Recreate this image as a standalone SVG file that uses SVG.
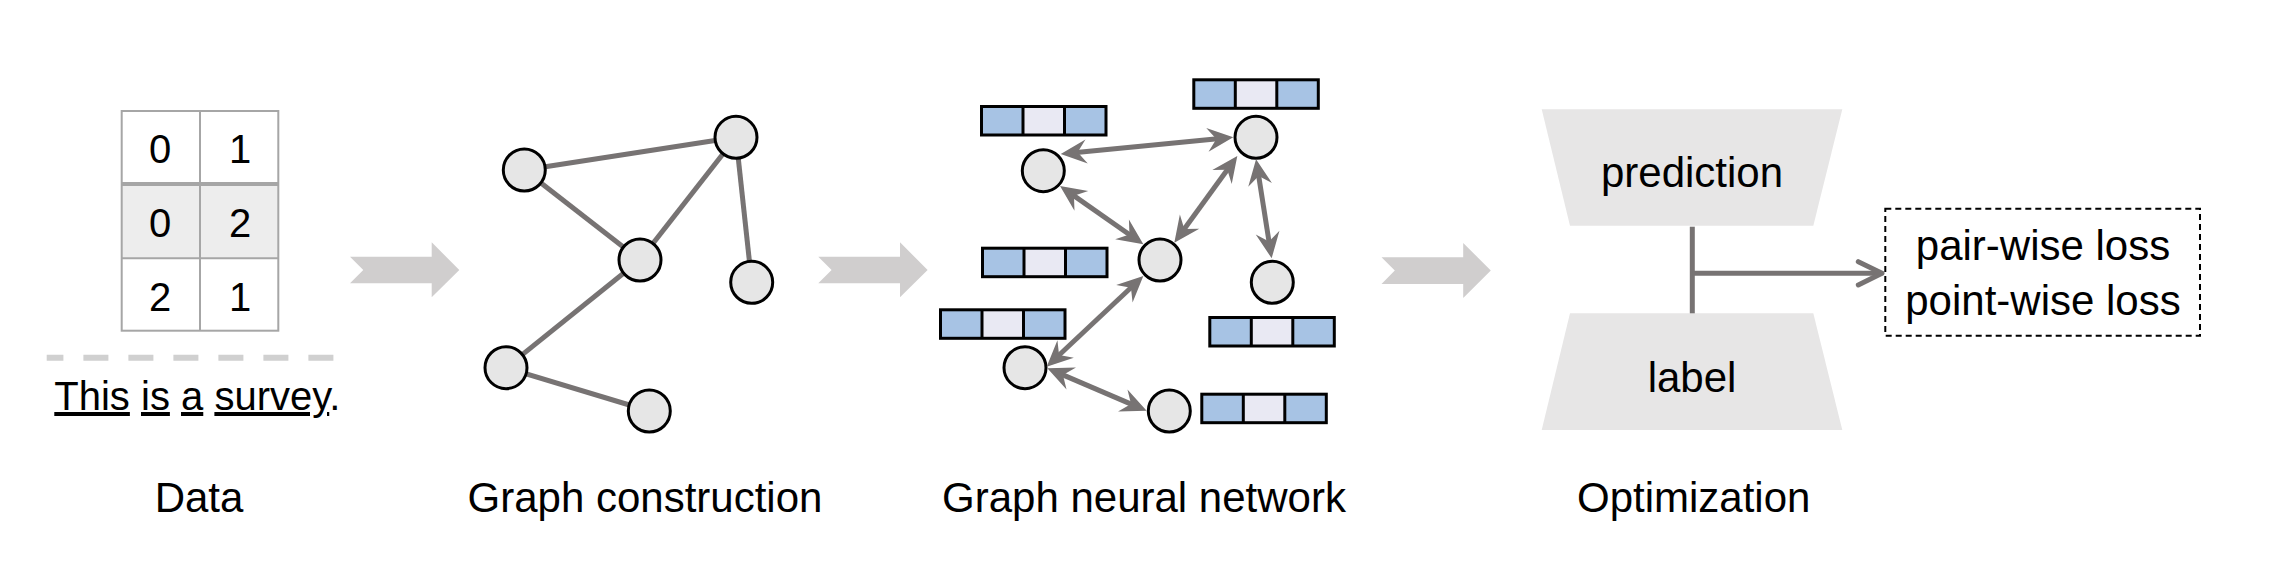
<svg xmlns="http://www.w3.org/2000/svg" xmlns:xlink="http://www.w3.org/1999/xlink" width="2272" height="574" viewBox="0 0 2272 574">
  <style>
    text { font-family: "Liberation Sans", Arial, sans-serif; fill: #000; }
    .lbl { font-size: 42px; text-anchor: middle; }
    .num { font-size: 40px; text-anchor: middle; }
    .cell { stroke: #a6a6a6; stroke-width: 2; fill: none; }
    .big { fill: #d0cece; }
    .node { fill: #e6e6e6; stroke: #000; stroke-width: 3; }
    .edge { stroke: #777373; stroke-width: 5; fill: none; }
    .dbl { stroke: #777373; stroke-width: 5; fill: none; marker-start: url(#head); marker-end: url(#head); }
    .trap { fill: #e7e6e6; }
    .blue { fill: #a7c3e4; }
    .pale { fill: #e9e9f3; }
    .vbord { fill: none; stroke: #000; stroke-width: 3; }
  </style>
  <defs>
    <marker id="head" markerUnits="userSpaceOnUse" orient="auto-start-reverse" markerWidth="40" markerHeight="28" refX="26" refY="14" overflow="visible">
      <path d="M34,14 L8,2 L17,14 L8,26 Z" fill="#777373"/>
    </marker>
    <g id="vec">
      <rect x="0" y="0" width="41.5" height="28.5" class="blue"/>
      <rect x="41.5" y="0" width="41.5" height="28.5" class="pale"/>
      <rect x="83" y="0" width="41.5" height="28.5" class="blue"/>
      <rect x="0" y="0" width="124.5" height="28.5" class="vbord"/>
      <line x1="41.5" y1="0" x2="41.5" y2="28.5" class="vbord"/>
      <line x1="83" y1="0" x2="83" y2="28.5" class="vbord"/>
    </g>
    <path id="bigarrow" d="M0,0 L81.7,0 L81.7,-14.4 L109.3,13.3 L81.7,40.6 L81.7,26.6 L0,26.6 L13.3,13.3 Z"/>
  </defs>

  <!-- Data -->
  <g id="data">
    <rect x="121.7" y="184" width="156.6" height="74.3" fill="#ededed"/>
    <rect x="121.7" y="111" width="156.6" height="219.7" class="cell"/>
    <line x1="200" y1="111" x2="200" y2="330.7" class="cell"/>
    <line x1="121.7" y1="184" x2="278.3" y2="184" stroke="#a6a6a6" stroke-width="4"/>
    <line x1="121.7" y1="258.3" x2="278.3" y2="258.3" class="cell"/>
    <text class="num" x="160" y="162.7">0</text>
    <text class="num" x="240" y="162.7">1</text>
    <text class="num" x="160" y="236.7">0</text>
    <text class="num" x="240" y="236.7">2</text>
    <text class="num" x="160" y="310.7">2</text>
    <text class="num" x="240" y="310.7">1</text>
    <line x1="46.7" y1="357.7" x2="334.3" y2="357.7" stroke="#d0d0d0" stroke-width="6" stroke-dasharray="25 20" stroke-dashoffset="8.3"/>
    <text x="54.3" y="410" font-size="40"><tspan text-decoration="underline">This</tspan> <tspan text-decoration="underline">is</tspan> <tspan text-decoration="underline">a</tspan> <tspan text-decoration="underline">survey</tspan>.</text>
  </g>

  <!-- Big stage arrows -->
  <g id="stage-arrows">
    <use xlink:href="#bigarrow" href="#bigarrow" x="350" y="256.7" class="big"/>
    <use xlink:href="#bigarrow" href="#bigarrow" x="818.3" y="256.7" class="big"/>
    <use xlink:href="#bigarrow" href="#bigarrow" x="1381.5" y="257.3" class="big"/>
  </g>

  <!-- Graph construction edges -->
  <g id="gc-edges">
    <line class="edge" x1="524.3" y1="170" x2="736" y2="137.3"/>
    <line class="edge" x1="524.3" y1="170" x2="640" y2="260"/>
    <line class="edge" x1="736" y1="137.3" x2="640" y2="260"/>
    <line class="edge" x1="736" y1="137.3" x2="751.7" y2="282.3"/>
    <line class="edge" x1="640" y1="260" x2="506" y2="367.7"/>
    <line class="edge" x1="506" y1="367.7" x2="649.3" y2="411"/>
  </g>
  <g id="gc-a"><circle class="node" cx="524.3" cy="170" r="21"/></g>
  <g id="gc-b"><circle class="node" cx="736" cy="137.3" r="21"/></g>
  <g id="gc-c"><circle class="node" cx="640" cy="260" r="21"/></g>
  <g id="gc-d"><circle class="node" cx="751.7" cy="282.3" r="21"/></g>
  <g id="gc-e"><circle class="node" cx="506" cy="367.7" r="21"/></g>
  <g id="gc-f"><circle class="node" cx="649.3" cy="411" r="21"/></g>

  <!-- GNN -->
  <g id="gnn-n1"><circle class="node" cx="1043.3" cy="170.7" r="21"/></g>
  <g id="gnn-n2"><circle class="node" cx="1256" cy="137.3" r="21"/></g>
  <g id="gnn-n3"><circle class="node" cx="1160" cy="260" r="21"/></g>
  <g id="gnn-n4"><circle class="node" cx="1272.3" cy="282.3" r="21"/></g>
  <g id="gnn-n5"><circle class="node" cx="1025" cy="367.7" r="21"/></g>
  <g id="gnn-n6"><circle class="node" cx="1169.3" cy="411" r="21"/></g>
  <g id="vec1"><use xlink:href="#vec" href="#vec" x="981.5" y="106.5"/></g>
  <g id="vec2"><use xlink:href="#vec" href="#vec" x="1193.8" y="79.8"/></g>
  <g id="vec3"><use xlink:href="#vec" href="#vec" x="982.5" y="248.2"/></g>
  <g id="vec4"><use xlink:href="#vec" href="#vec" x="940.5" y="309.8"/></g>
  <g id="vec5"><use xlink:href="#vec" href="#vec" x="1209.8" y="317.5"/></g>
  <g id="vec6"><use xlink:href="#vec" href="#vec" x="1201.8" y="394.2"/></g>

  <g id="gnn-connectors">
    <line class="dbl" x1="1068.7" y1="153.2" x2="1225.3" y2="138.1"/>
    <line class="dbl" x1="1066.6" y1="190.6" x2="1136.8" y2="239.7"/>
    <line class="dbl" x1="1179.0" y1="236.2" x2="1232.6" y2="162.5"/>
    <line class="dbl" x1="1257.3" y1="167.2" x2="1270.4" y2="250.4"/>
    <line class="dbl" x1="1137.5" y1="281.5" x2="1052.5" y2="361.2"/>
    <line class="dbl" x1="1054.7" y1="371.4" x2="1139.3" y2="407.6"/>
  </g>

  <!-- Optimization -->
  <g id="prediction">
    <polygon class="trap" points="1541.7,109.3 1842.3,109.3 1813.3,225.7 1570,225.7"/>
    <text class="lbl" x="1692" y="186.7">prediction</text>
  </g>
  <g id="label">
    <polygon class="trap" points="1570,313.3 1813.3,313.3 1842.3,430 1541.7,430"/>
    <text class="lbl" x="1692" y="391.7">label</text>
  </g>
  <g id="opt-connectors">
    <line class="edge" x1="1692.3" y1="226.7" x2="1692.3" y2="313.3"/>
    <line class="edge" x1="1692.3" y1="273.3" x2="1880" y2="273.3"/>
    <polyline class="edge" points="1858.3,261.7 1882,273.3 1858.3,285" stroke-linecap="round" stroke-linejoin="round"/>
  </g>
  <g id="loss">
    <rect x="1885.3" y="208.7" width="314.7" height="127" fill="none" stroke="#000" stroke-width="2" stroke-dasharray="6 4"/>
    <text class="lbl" x="2043" y="260">pair-wise loss</text>
    <text class="lbl" x="2043" y="315">point-wise loss</text>
  </g>

  <!-- Stage captions -->
  <g id="captions">
    <text class="lbl" x="199" y="511.7">Data</text>
    <text class="lbl" x="645" y="511.7">Graph construction</text>
    <text class="lbl" x="1144" y="511.7">Graph neural network</text>
    <text class="lbl" x="1693.7" y="511.7">Optimization</text>
  </g>
</svg>
